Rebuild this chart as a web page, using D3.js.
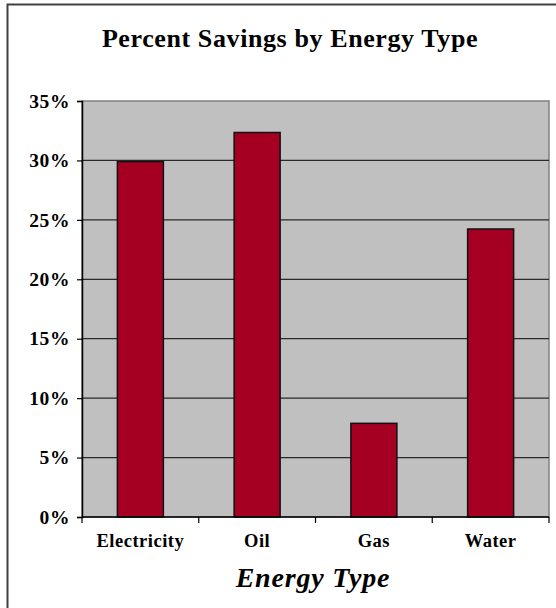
<!DOCTYPE html>
<html>
<head>
<meta charset="utf-8">
<script src="https://cdn.jsdelivr.net/npm/d3@7"></script>
<style>
  body { margin: 0; background: #fff; }
  text { font-family: "Liberation Serif", "Times New Roman", serif; font-weight: bold; }
</style>
</head>
<body>
<svg id="chart" width="556" height="608"></svg>
<script>
var categories = ['Electricity', 'Oil', 'Gas', 'Water'];
var savings = [0.299, 0.3235, 0.0788, 0.2423];
var yTicks = [0, 0.05, 0.10, 0.15, 0.20, 0.25, 0.30, 0.35];

var margin = {left: 82, right: 7, top: 101, bottom: 91},
    width = 556,
    height = 608;

var svg = d3.select('#chart');

// outer chart frame (right and bottom run off the page)
svg.append('rect')
    .attr('x', 7.5)
    .attr('y', 4.5)
    .attr('width', 560)
    .attr('height', 620)
    .attr('fill', 'none')
    .attr('stroke', '#404040')
    .attr('stroke-width', 2);

var x = d3.scaleBand()
    .domain(categories)
    .range([margin.left, width - margin.right])
    .paddingInner(0.606)
    .paddingOuter(0.303);

var y = d3.scaleLinear()
    .domain([0, 0.35])
    .range([height - margin.bottom, margin.top]);

// plot area
svg.append('rect')
    .attr('x', margin.left)
    .attr('y', y(0.35))
    .attr('width', width - margin.right - margin.left)
    .attr('height', y(0) - y(0.35))
    .attr('fill', '#c0c0c0')
    .attr('stroke', '#808080')
    .attr('stroke-width', 1.5);

// gridlines
svg.append('g')
    .selectAll('line')
    .data(yTicks.slice(1, -1))
    .enter()
    .append('line')
        .attr('x1', margin.left)
        .attr('x2', width - margin.right)
        .attr('y1', function(d) { return y(d); })
        .attr('y2', function(d) { return y(d); })
        .attr('stroke', '#2a2a2a')
        .attr('stroke-width', 1.2);

// bars
svg.append('g')
    .selectAll('rect')
    .data(savings)
    .enter()
    .append('rect')
        .attr('x', function(d, i) { return x(categories[i]); })
        .attr('y', function(d) { return y(d); })
        .attr('width', x.bandwidth())
        .attr('height', function(d) { return y(0) - y(d); })
        .attr('fill', '#a50021')
        .attr('stroke', '#111')
        .attr('stroke-width', 1.5);

// y axis
var yAxis = svg.append('g')
    .attr('transform', 'translate(' + margin.left + ',0)')
    .call(d3.axisLeft(y).tickValues(yTicks).tickSize(5).tickPadding(7)
        .tickFormat(d3.format('.0%')));
yAxis.select('.domain').attr('stroke', '#000').attr('stroke-width', 1.5);
yAxis.selectAll('.tick line').attr('stroke', '#000').attr('stroke-width', 1.2);
yAxis.selectAll('.tick text')
    .attr('font-size', 19.5)
    .attr('letter-spacing', 0.6)
    .attr('fill', '#000')
    .style('font-family', '"Liberation Serif", serif')
    .style('font-weight', 'bold');

// x axis: ticks between categories
var step = x.step();
var boundaries = d3.range(categories.length + 1).map(function(i) {
    return margin.left + i * step;
});
var xAxis = svg.append('g');
xAxis.append('line')
    .attr('x1', margin.left)
    .attr('x2', width - margin.right)
    .attr('y1', y(0))
    .attr('y2', y(0))
    .attr('stroke', '#000')
    .attr('stroke-width', 1.5);
xAxis.selectAll('.xtick')
    .data(boundaries)
    .enter()
    .append('line')
        .attr('class', 'xtick')
        .attr('x1', function(d) { return d; })
        .attr('x2', function(d) { return d; })
        .attr('y1', y(0))
        .attr('y2', y(0) + 6)
        .attr('stroke', '#000')
        .attr('stroke-width', 1.2);
xAxis.selectAll('.xlabel')
    .data(categories)
    .enter()
    .append('text')
        .attr('class', 'xlabel')
        .attr('x', function(d) { return x(d) + x.bandwidth() / 2; })
        .attr('y', y(0) + 30)
        .attr('text-anchor', 'middle')
        .attr('font-size', 18.5)
        .attr('letter-spacing', 0.5)
        .text(function(d) { return d; });

// titles
svg.append('text')
    .attr('x', 290)
    .attr('y', 47)
    .attr('text-anchor', 'middle')
    .attr('font-size', 26)
    .attr('letter-spacing', 0.6)
    .text('Percent Savings by Energy Type');

svg.append('text')
    .attr('x', 313)
    .attr('y', 587)
    .attr('text-anchor', 'middle')
    .attr('font-size', 28)
    .attr('letter-spacing', 0.8)
    .attr('font-style', 'italic')
    .text('Energy Type');
</script>
</body>
</html>
